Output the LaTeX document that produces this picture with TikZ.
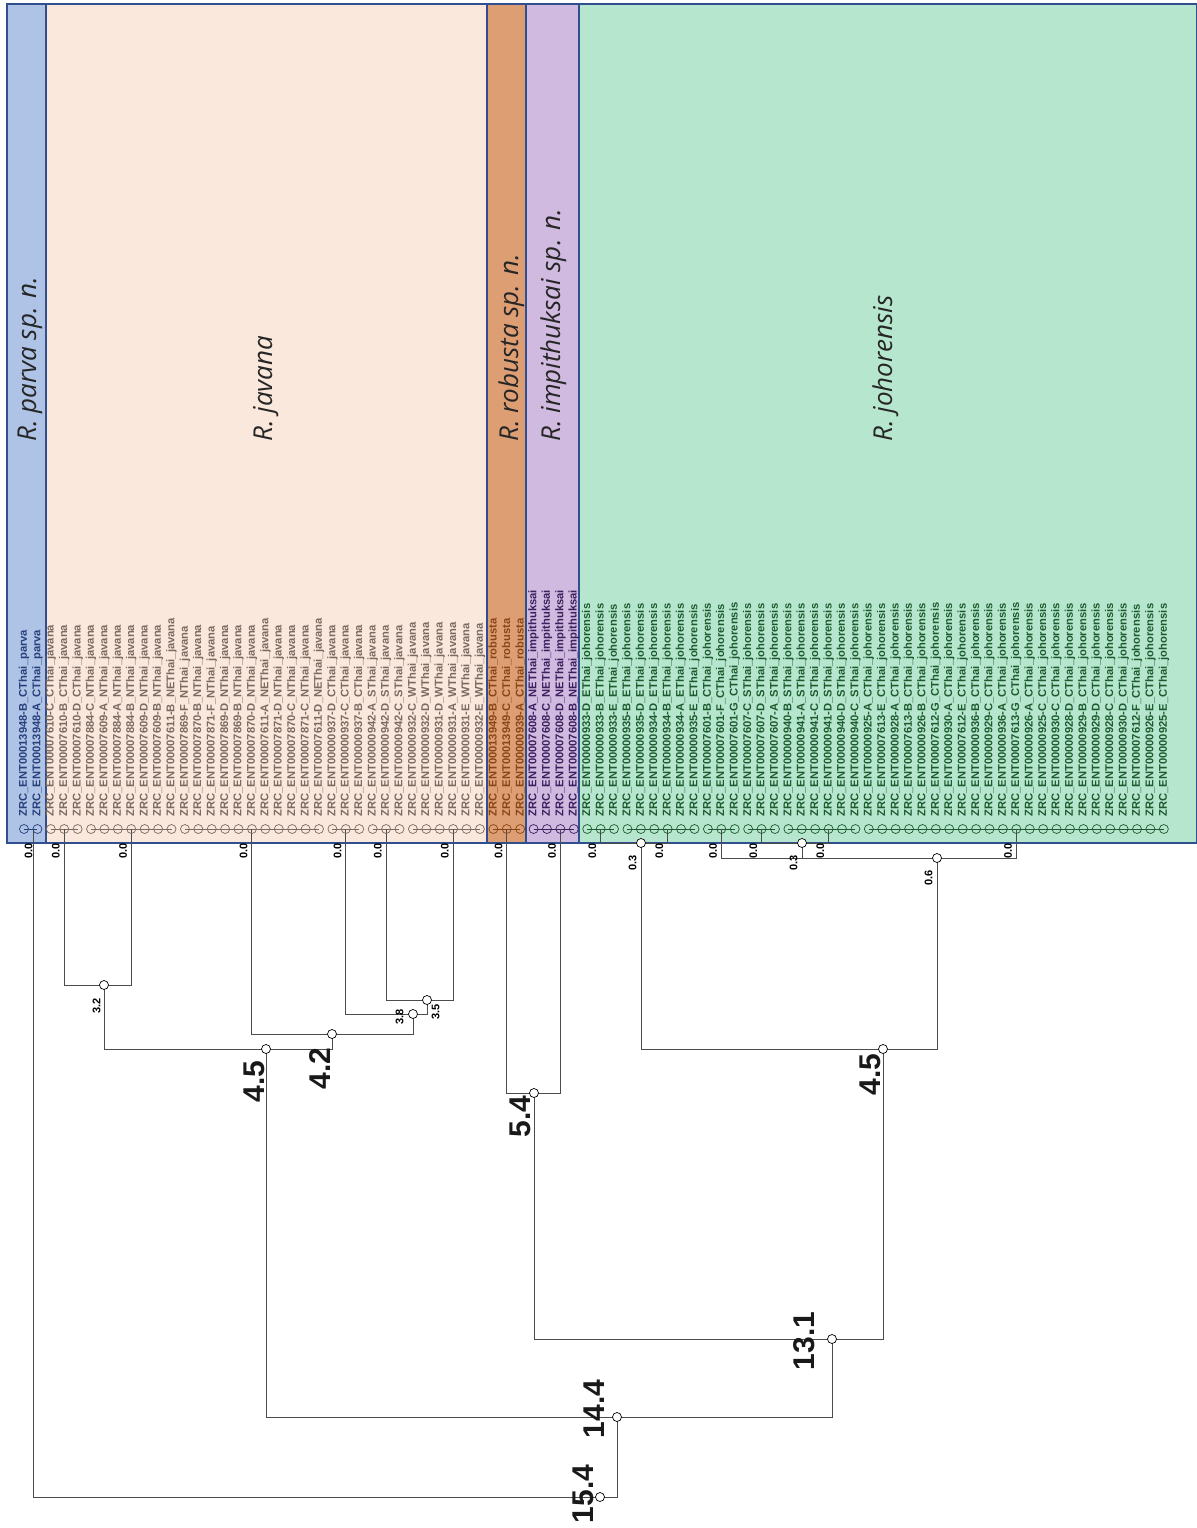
\documentclass[tikz,border=0pt]{standalone}
\usepackage{fontspec}
\setmainfont{Liberation Sans}
\newfontfamily\bandfont{Open Sans}
\usetikzlibrary{backgrounds}
\definecolor{parvafill}{RGB}{175,195,230}
\definecolor{javfill}{RGB}{250,232,220}
\definecolor{robfill}{RGB}{222,158,116}
\definecolor{impfill}{RGB}{208,186,224}
\definecolor{johfill}{RGB}{182,231,206}
\definecolor{parvatext}{RGB}{39,64,122}
\definecolor{javtext}{RGB}{122,106,98}
\definecolor{robtext}{RGB}{138,69,21}
\definecolor{imptext}{RGB}{60,31,92}
\definecolor{johtext}{RGB}{29,90,46}
\definecolor{bandline}{RGB}{47,79,143}
\tikzset{
    leaf/.style={
    circle,draw,inner sep=0pt,minimum size=4.5pt,line width=0.35pt
    },
    leaflab/.style={
    rotate=90,anchor=west,inner sep=0pt,font=\bfseries\fontsize{5.6}{6}\selectfont
    },
    split/.style={
    circle,draw=black,fill=white,inner sep=0pt,minimum size=4.5pt,line width=0.35pt
    },
    small/.style={
    rotate=90,anchor=south east,inner sep=0pt,font=\bfseries\fontsize{5.5}{6}\selectfont
    },
    big/.style={
    rotate=90,inner sep=0pt,font=\bfseries\fontsize{15}{16}\selectfont,text=black!90
    },
    band/.style={
    draw=bandline,line width=0.6pt
    },
    bandlab/.style={
    rotate=90,anchor=base west,inner sep=0pt,font=\bandfont\itshape\fontsize{13}{15}\selectfont,text=black!85
    },
    branch/.style={
    draw=black!70,line width=0.5pt
    },
}
\begin{document}
\begin{tikzpicture}[x=0.5pt,y=-0.5pt]
  \useasboundingbox (0,0) rectangle (1197,1528);

  % leaves
  \foreach \id/\reg [count=\k from 0] in {00013948-B/CThai,00013948-A/CThai}{
    \node[leaf,draw=parvatext] (l\k) at ({24+13.41*\k},829) {};
    \node[leaflab,text=parvatext] at ({24+13.41*\k},817) {ZRC\_ENT\id\_\reg\_parva};
  }
  \foreach \id/\reg [count=\k from 2] in {00007610-C/CThai,00007610-B/CThai,00007610-D/CThai,
      00007884-C/NThai,00007609-A/NThai,00007884-A/NThai,00007884-B/NThai,00007609-D/NThai,
      00007609-B/NThai,00007611-B/NEThai,00007869-F/NThai,00007870-B/NThai,00007871-F/NThai,
      00007869-D/NThai,00007869-B/NThai,00007870-D/NThai,00007611-A/NEThai,00007871-D/NThai,
      00007870-C/NThai,00007871-C/NThai,00007611-D/NEThai,00000937-D/CThai,00000937-C/CThai,
      00000937-B/CThai,00000942-A/SThai,00000942-D/SThai,00000942-C/SThai,00000932-C/WThai,
      00000932-D/WThai,00000931-D/WThai,00000931-A/WThai,00000931-E/WThai,00000932-E/WThai}{
    \node[leaf,draw=javtext] (l\k) at ({24+13.41*\k},829) {};
    \node[leaflab,text=javtext] at ({24+13.41*\k},817) {ZRC\_ENT\id\_\reg\_javana};
  }
  \foreach \id/\reg [count=\k from 35] in {00013949-B/CThai,00013949-C/CThai,00000939-A/CThai}{
    \node[leaf,draw=robtext] (l\k) at ({24+13.41*\k},829) {};
    \node[leaflab,text=robtext] at ({24+13.41*\k},817) {ZRC\_ENT\id\_\reg\_robusta};
  }
  \foreach \id/\reg [count=\k from 38] in {00007608-A/NEThai,00007608-C/NEThai,00007608-D/NEThai,00007608-B/NEThai}{
    \node[leaf,draw=imptext] (l\k) at ({24+13.41*\k},829) {};
    \node[leaflab,text=imptext] at ({24+13.41*\k},817) {ZRC\_ENT\id\_\reg\_impithuksai};
  }
  \foreach \id/\reg [count=\k from 42] in {00000933-D/EThai,00000933-B/EThai,00000933-E/EThai,
      00000935-B/EThai,00000935-D/EThai,00000934-D/EThai,00000934-B/EThai,00000934-A/EThai,
      00000935-E/EThai,00007601-B/CThai,00007601-F/CThai,00007601-G/CThai,00007607-C/SThai,
      00007607-D/SThai,00007607-A/SThai,00000940-B/SThai,00000941-A/SThai,00000941-C/SThai,
      00000941-D/SThai,00000940-D/SThai,00000940-C/SThai,00000925-A/CThai,00007613-E/CThai,
      00000928-A/CThai,00007613-B/CThai,00000926-B/CThai,00007612-G/CThai,00000930-A/CThai,
      00007612-E/CThai,00000936-B/CThai,00000929-C/CThai,00000936-A/CThai,00007613-G/CThai,
      00000926-A/CThai,00000925-C/CThai,00000930-C/CThai,00000928-D/CThai,00000929-B/CThai,
      00000929-D/CThai,00000928-C/CThai,00000930-D/CThai,00007612-F/CThai,00000926-E/CThai,
      00000925-E/CThai}{
    \node[leaf,draw=johtext] (l\k) at ({24+13.41*\k},829) {};
    \node[leaflab,text=johtext] at ({24+13.41*\k},817) {ZRC\_ENT\id\_\reg\_johorensis};
  }
  \coordinate (gP) at (33,829);

  % splits
  \node[split] (n32) at (104,985) {};
  \node[split] (n35) at (427,1000) {};
  \node[split] (n38) at (413,1014) {};
  \node[split] (n42) at (332,1034) {};
  \node[split] (n45a) at (266,1049) {};
  \node[split] (n54) at (534,1093) {};
  \node[split] (n03a) at (641,843) {};
  \node[split] (n03b) at (802,843) {};
  \node[split] (n06) at (937,858) {};
  \node[split] (n45b) at (883,1049) {};
  \node[split] (n131) at (832,1339) {};
  \node[split] (n144) at (617,1417) {};
  \node[split] (n154) at (600,1497) {};

  % bands
  \begin{scope}[on background layer]
    \draw[band,fill=parvafill] (7,4) rectangle (46,843);
    \draw[band,fill=javfill] (46,4) rectangle (487,843);
    \draw[band,fill=robfill] (487,4) rectangle (526,843);
    \draw[band,fill=impfill] (526,4) rectangle (579,843);
    \draw[band,fill=johfill] (579,4) rectangle (1197,843);
  \end{scope}
  \node[bandlab] (tparva) at (36,442) {R. parva sp. n.};
  \node[bandlab] (tjav) at (272,442) {R. javana};
  \node[bandlab] (trob) at (518,442) {R. robusta sp. n.};
  \node[bandlab] (timp) at (560,442) {R. impithuksai sp. n.};
  \node[bandlab] (tjoh) at (892,442) {R. johorensis};

  % branches
  \begin{scope}[on background layer]
    \foreach \a/\b/\c in {0/1/parvatext,2/4/javtext,5/11/javtext,12/22/javtext,23/25/javtext,
        26/28/javtext,29/34/javtext,35/37/robtext,38/41/imptext,42/44/johtext,45/50/johtext,
        51/53/johtext,54/56/johtext,57/62/johtext,63/85/johtext}
      \draw[draw=\c,line width=0.4pt] (l\a.center) -- (l\b.center);
    \draw[branch] (l3.center) |- (n32.center) -| (l8.center);
    \draw[branch] (l27.center) |- (n35.center) -| (l32.center);
    \draw[branch] (l24.center) |- (n38.center) -| (n35.center);
    \draw[branch] (l17.center) |- (n42.center) -| (n38.center);
    \draw[branch] (n32.center) |- (n45a.center) -| (n42.center);
    \draw[branch] (l36.center) |- (n54.center) -| (l40.center);
    \draw[branch] (l43.center) |- (n03a.center) -| (l48.center);
    \draw[branch] (l55.center) |- (n03b.center) -| (l60.center);
    \draw[branch] (l52.center) |- (n06.center) -| (l74.center);
    \draw[branch] (n03b.center) -- (n03b.center |- n06.center);
    \draw[branch] (n03a.center) |- (n45b.center) -| (n06.center);
    \draw[branch] (n54.center) |- (n131.center) -| (n45b.center);
    \draw[branch] (n45a.center) |- (n144.center) -| (n131.center);
    \draw[branch] (gP) |- (n154.center) -| (n144.center);
  \end{scope}

  % distances
  \foreach \s in {3,8,17,24,27,32,36,40,43,48,52,55,60,74}
    \node[small] (d\s) at ([xshift=-2pt]l\s.center |- 0,843) {0.0};
  \node[small] (dP) at (33,843) {0.0};
  \node[small] (d32) at (101,998) {3.2};
  \node[small] (d38) at (404,1009) {3.8};
  \node[small] (d35) at (440,1004) {3.5};
  \node[small] (d03a) at (637,855) {0.3};
  \node[small] (d03b) at (798,855) {0.3};
  \node[small] (d06) at (933,870) {0.6};
  \node[big,anchor=south east] (d45a) at (265,1060) {4.5};
  \node[big,anchor=south east] (d42) at (331,1047) {4.2};
  \node[big,anchor=south east] (d54) at (531,1095) {5.4};
  \node[big,anchor=south east] (d45b) at (881,1053) {4.5};
  \node[big,anchor=south] (d131) at (815,1341) {13.1};
  \node[big,anchor=south] (d144) at (605,1409) {14.4};
  \node[big,anchor=south] (d154) at (594,1494) {15.4};
\end{tikzpicture}
\end{document}
